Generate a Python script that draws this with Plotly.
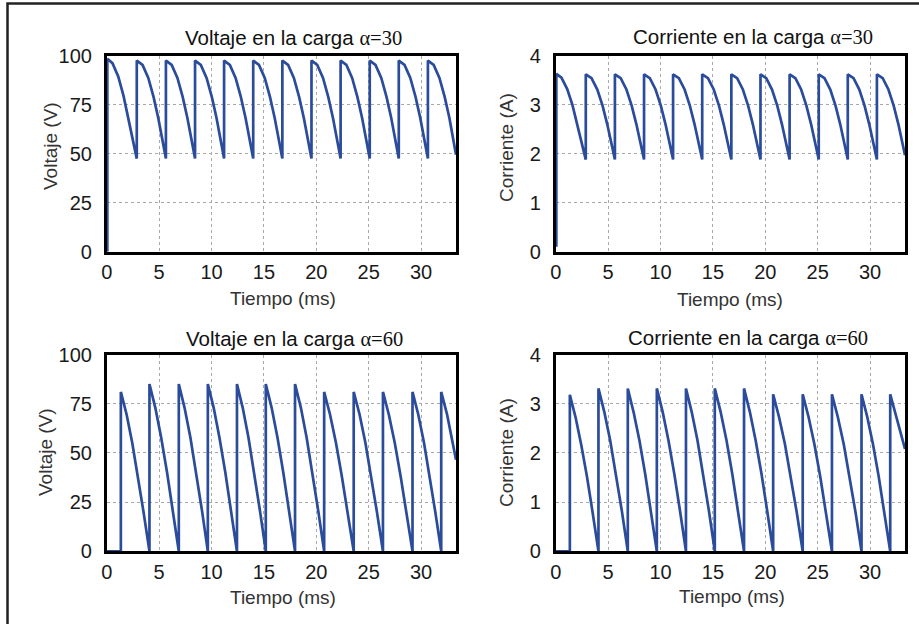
import plotly.graph_objects as go

# ---------------- data (time in ms) ----------------
# alpha = 30 deg : firing instants shared by voltage and current
t_a30 = [0.06,
         0.06, 0.55, 1.10, 1.60, 2.05, 2.45, 2.87,
         2.87, 3.42, 3.97, 4.47, 4.92, 5.32, 5.65,
         5.65, 6.20, 6.75, 7.25, 7.70, 8.10, 8.43,
         8.43, 8.98, 9.53, 10.03, 10.48, 10.88, 11.20,
         11.20, 11.75, 12.30, 12.80, 13.25, 13.65, 13.98,
         13.98, 14.53, 15.08, 15.58, 16.03, 16.43, 16.76,
         16.76, 17.31, 17.86, 18.36, 18.81, 19.21, 19.54,
         19.54, 20.09, 20.64, 21.14, 21.59, 21.99, 22.32,
         22.32, 22.87, 23.42, 23.92, 24.37, 24.77, 25.10,
         25.10, 25.65, 26.20, 26.70, 27.15, 27.55, 27.87,
         27.87, 28.42, 28.97, 29.47, 29.92, 30.32, 30.65,
         30.65, 31.20, 31.75, 32.25, 32.70, 33.10, 33.33]

v_a30 = [0,
         98.5, 96.2, 89.4, 79.6, 68.6, 57.7, 47.5,
         97.5, 95.3, 88.7, 79.0, 68.2, 57.5, 47.5,
         97.5, 95.3, 88.7, 79.0, 68.2, 57.5, 47.5,
         97.5, 95.3, 88.7, 79.0, 68.2, 57.5, 47.5,
         97.5, 95.3, 88.7, 79.0, 68.2, 57.5, 47.5,
         97.5, 95.3, 88.7, 79.0, 68.2, 57.5, 47.5,
         97.5, 95.3, 88.7, 79.0, 68.2, 57.5, 47.5,
         97.5, 95.3, 88.7, 79.0, 68.2, 57.5, 47.5,
         97.5, 95.3, 88.7, 79.0, 68.2, 57.5, 47.5,
         97.5, 95.3, 88.7, 79.0, 68.2, 57.5, 47.5,
         97.5, 95.3, 88.7, 79.0, 68.2, 57.5, 47.5,
         97.5, 95.3, 88.7, 79.0, 68.2, 57.5, 49.5]

i_a30 = [0.1,
         3.63, 3.55, 3.32, 2.99, 2.61, 2.23, 1.88,
         3.62, 3.54, 3.31, 2.98, 2.60, 2.23, 1.88,
         3.62, 3.54, 3.31, 2.98, 2.60, 2.23, 1.88,
         3.62, 3.54, 3.31, 2.98, 2.60, 2.23, 1.88,
         3.62, 3.54, 3.31, 2.98, 2.60, 2.23, 1.88,
         3.62, 3.54, 3.31, 2.98, 2.60, 2.23, 1.88,
         3.62, 3.54, 3.31, 2.98, 2.60, 2.23, 1.88,
         3.62, 3.54, 3.31, 2.98, 2.60, 2.23, 1.88,
         3.62, 3.54, 3.31, 2.98, 2.60, 2.23, 1.88,
         3.62, 3.54, 3.31, 2.98, 2.60, 2.23, 1.88,
         3.62, 3.54, 3.31, 2.98, 2.60, 2.23, 1.88,
         3.62, 3.54, 3.31, 2.98, 2.60, 2.23, 1.97]

# alpha = 60 deg : discontinuous conduction, output starts at ~1.35 ms
t_a60 = [0, 1.35,
         1.35, 1.90, 2.44, 2.99, 3.53, 4.08,
         4.08, 4.64, 5.20, 5.76, 6.32, 6.88,
         6.88, 7.43, 7.99, 8.54, 9.10, 9.65,
         9.65, 10.21, 10.76, 11.32, 11.87, 12.43,
         12.43, 12.98, 13.53, 14.08, 14.63, 15.18,
         15.18, 15.74, 16.30, 16.85, 17.41, 17.97,
         17.97, 18.53, 19.08, 19.64, 20.19, 20.75,
         20.75, 21.31, 21.88, 22.44, 23.01, 23.57,
         23.57, 24.13, 24.69, 25.24, 25.80, 26.36,
         26.36, 26.92, 27.49, 28.05, 28.62, 29.18,
         29.18, 29.73, 30.28, 30.82, 31.37, 31.92,
         31.92, 32.48, 33.04, 33.33]

v_a60 = [0, 0,
         81.0, 69.5, 55.0, 38.0, 19.5, 0,
         85.0, 72.9, 57.7, 40.0, 20.4, 0,
         85.0, 72.9, 57.7, 40.0, 20.4, 0,
         85.0, 72.9, 57.7, 40.0, 20.4, 0,
         85.0, 72.9, 57.7, 40.0, 20.4, 0,
         85.0, 72.9, 57.7, 40.0, 20.4, 0,
         85.0, 72.9, 57.7, 40.0, 20.4, 0,
         81.0, 69.5, 55.0, 38.0, 19.5, 0,
         81.0, 69.5, 55.0, 38.0, 19.5, 0,
         81.0, 69.5, 55.0, 38.0, 19.5, 0,
         81.0, 69.5, 55.0, 38.0, 19.5, 0,
         81.0, 69.5, 55.0, 46.5]

i_a60 = [0, 0,
         3.18, 2.72, 2.16, 1.51, 0.78, 0,
         3.31, 2.83, 2.25, 1.57, 0.81, 0,
         3.31, 2.83, 2.25, 1.57, 0.81, 0,
         3.31, 2.83, 2.25, 1.57, 0.81, 0,
         3.31, 2.83, 2.25, 1.57, 0.81, 0,
         3.31, 2.83, 2.25, 1.57, 0.81, 0,
         3.31, 2.83, 2.25, 1.57, 0.81, 0,
         3.19, 2.73, 2.17, 1.52, 0.78, 0,
         3.19, 2.73, 2.17, 1.52, 0.78, 0,
         3.19, 2.73, 2.17, 1.52, 0.78, 0,
         3.19, 2.73, 2.17, 1.52, 0.78, 0,
         3.19, 2.75, 2.28, 2.08]

x_ticks = [0, 5, 10, 15, 20, 25, 30]
v_ticks = [0, 25, 50, 75, 100]
i_ticks = [0, 1, 2, 3, 4]

titles = ["Voltaje en la carga", "Corriente en la carga",
          "Voltaje en la carga", "Corriente en la carga"]
alphas = ["\u03b1=30", "\u03b1=30", "\u03b1=60", "\u03b1=60"]
y_titles = ["Voltaje (V)", "Corriente (A)", "Voltaje (V)", "Corriente (A)"]
x_title = "Tiempo (ms)"

# ---------------- styling ----------------
W, H = 919, 624
LINE = "#2b4c9b"
SANS = "Liberation Sans, Arial, sans-serif"
SERIF = "Liberation Serif"


def px(x):
    return x / W


def py(y):
    return 1 - y / H


x_dom = [[px(106.7), px(456)], [px(555.7), px(905)]]
y_dom = [[py(251.7), py(55.7)], [py(551.3), py(354.5)]]

series = [(t_a30, v_a30, v_ticks, 100), (t_a30, i_a30, i_ticks, 4),
          (t_a60, v_a60, v_ticks, 100), (t_a60, i_a60, i_ticks, 4)]

fig = go.Figure()
layout = dict(width=W, height=H, margin=dict(l=0, r=0, t=0, b=0, autoexpand=False),
              paper_bgcolor="white", plot_bgcolor="white", showlegend=False,
              font=dict(family=SANS, color="#1a1a1a"))

for k, (tx, ty, yt, ymax) in enumerate(series):
    n = "" if k == 0 else str(k + 1)
    r, c = divmod(k, 2)
    fig.add_trace(go.Scatter(x=tx, y=ty, mode="lines", xaxis="x" + n, yaxis="y" + n,
                             line=dict(color=LINE, width=2.7)))
    common = dict(showline=True, mirror=True, linecolor="black", linewidth=2.5,
                  showgrid=True, gridcolor="#a8a8a8", gridwidth=1, griddash="dot",
                  zeroline=False, ticks="", automargin=False,
                  tickfont=dict(size=20, color="#1a1a1a"))
    layout["xaxis" + n] = dict(domain=x_dom[c], anchor="y" + n, range=[0, 33.33],
                               tickvals=x_ticks, ticklabelstandoff=1, **common)
    layout["yaxis" + n] = dict(domain=y_dom[r], anchor="x" + n, range=[0, ymax],
                               tickvals=yt, ticklabelstandoff=8, **common)

ann = []
title_pos = [(293, 37), (752.7, 36), (294, 338), (748, 337)]
ytitle_pos = [(50, 146), (506, 148), (45, 452), (506, 453)]
xtitle_pos = [(283, 298), (730, 299), (283, 597), (732, 596)]
for k in range(4):
    tx, ty = title_pos[k]
    ann.append(dict(x=px(tx), y=py(ty), xref="paper", yref="paper", showarrow=False,
                    xanchor="center", yanchor="middle",
                    text=titles[k] + " <span style=\"font-family:'" + SERIF + "'\">" + alphas[k] + "</span>",
                    font=dict(size=20.5, family=SANS, color="#111")))
    tx, ty = ytitle_pos[k]
    ann.append(dict(x=px(tx), y=py(ty), xref="paper", yref="paper", showarrow=False,
                    xanchor="center", yanchor="middle", textangle=-90,
                    text=y_titles[k], font=dict(size=19, family=SANS, color="#333")))
    tx, ty = xtitle_pos[k]
    ann.append(dict(x=px(tx), y=py(ty), xref="paper", yref="paper", showarrow=False,
                    xanchor="center", yanchor="middle",
                    text=x_title, font=dict(size=19, family=SANS, color="#333")))
layout["annotations"] = ann

# outer frame of the figure (left and top edges visible)
layout["shapes"] = [dict(type="rect", xref="paper", yref="paper",
                         x0=px(7.5), x1=1.05, y0=-0.05, y1=py(3.5),
                         line=dict(color="#222", width=2.5))]

fig.update_layout(**layout)
fig.write_html("out.html")
